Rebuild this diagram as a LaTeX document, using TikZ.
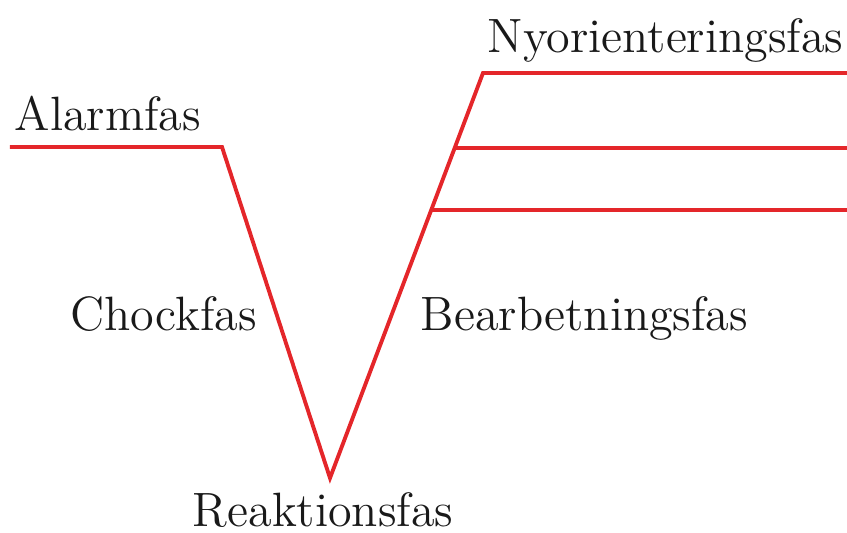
\documentclass[tikz,border=0pt]{standalone}
\usepackage{tikz}
\usetikzlibrary{calc}
\usepackage{xcolor}
\definecolor{phaseRed}{RGB}{228,38,42}
\definecolor{phaseText}{RGB}{25,25,25}

\begin{document}
\begin{tikzpicture}[x=0.01cm, y=-0.01cm, font=\fontsize{13.7}{16}\selectfont]

    % ==========================================
    % FRAME (same size as the page)
    % ==========================================
    \useasboundingbox (0,0) rectangle (847,532);
    \clip (0,0) rectangle (847,532);

    \tikzset{phase/.style={phaseRed, line width=1.1pt}}
    \tikzset{phaselabel/.style={anchor=base west, inner sep=0pt, text=phaseText}}

    % Coordinates of the curve
    \coordinate (A_start) at (10,147);
    \coordinate (A_end) at (222,147);
    \coordinate (V) at (330,478); % bottom of the dip
    \coordinate (N_start) at (483,73);
    \coordinate (N_end) at (847,73);
    \coordinate (M_start) at ($(V)!0.815!(N_start)$);
    \coordinate (M_end) at (847,148);
    \coordinate (L_start) at ($(V)!0.662!(N_start)$);
    \coordinate (L_end) at (847,210);

    % Draw the curve
    \draw[phase, line join=miter] (A_start) -- (A_end) -- (V) -- (N_start) -- (N_end);

    % The two lower branches
    \draw[phase] (M_start) -- (M_end |- M_start);
    \draw[phase] (L_start) -- (L_end |- L_start);

    % Labels
    \node[phaselabel] (alarm) at (14,130) {Alarmfas};
    \node[phaselabel] (nyorient) at (487,52) {Nyorienteringsfas};
    \node[phaselabel] (chock) at (70,330) {Chockfas};
    \node[phaselabel] (bearb) at (420,330) {Bearbetningsfas};
    \node[phaselabel] (reakt) at (192,526) {Reaktionsfas};

\end{tikzpicture}
\end{document}
